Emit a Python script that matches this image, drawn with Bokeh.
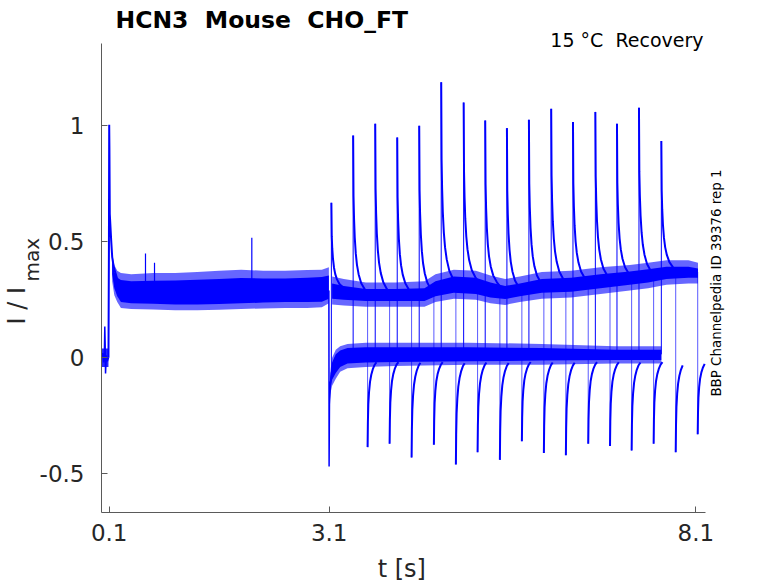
import math
from bokeh.plotting import figure
from bokeh.models import Label, FixedTicker, Range1d, LinearAxis
from bokeh.embed import file_html
from bokeh.resources import INLINE

# ---------------- values ----------------
x_ticks = [0.1, 3.1, 8.1]
x_tick_labels = ["0.1", "3.1", "8.1"]
y_ticks = [-0.5, 0, 0.5, 1]
y_tick_labels = ["-0.5", "0", "0.5", "1"]
x_axis_span = (-0.005, 8.228)
y_axis_span = (-0.667, 1.355)

# holding period before the conditioning step (t in s, I / Imax)
base_t = [0.000, 0.010, 0.025, 0.035, 0.040, 0.045, 0.050, 0.060, 0.075, 0.090]
base_I = [0.000, 0.020, -0.020, 0.030, 0.135, 0.060, -0.068, 0.010, -0.015, 0.000]
base_band_t = [0.000, 0.090]
base_band_lo = [-0.040, -0.040]
base_band_hi = [0.040, 0.040]

# activation at the conditioning step
act_t = [0.090, 0.096, 0.100, 0.103, 0.108, 0.118, 0.127, 0.141, 0.163, 0.209, 0.260]
act_I = [0.000, 0.450, 1.005, 0.900, 0.620, 0.560, 0.506, 0.434, 0.390, 0.340, 0.300]

# noisy plateau during the conditioning step (outer / inner envelopes)
pre_t      = [0.140, 0.170, 0.210, 0.260, 0.400, 0.700, 1.000, 1.300, 1.600, 1.900, 2.200, 2.500, 2.800, 3.000, 3.096]
pre_out_hi = [0.450, 0.400, 0.375, 0.365, 0.360, 0.365, 0.365, 0.370, 0.375, 0.380, 0.375, 0.375, 0.378, 0.380, 0.390]
pre_in_hi  = [0.420, 0.370, 0.345, 0.335, 0.330, 0.332, 0.333, 0.336, 0.340, 0.344, 0.342, 0.342, 0.345, 0.348, 0.355]
pre_in_lo  = [0.360, 0.300, 0.265, 0.240, 0.235, 0.233, 0.230, 0.230, 0.232, 0.235, 0.238, 0.240, 0.240, 0.242, 0.255]
pre_out_lo = [0.330, 0.270, 0.240, 0.215, 0.210, 0.208, 0.205, 0.205, 0.207, 0.210, 0.213, 0.215, 0.215, 0.218, 0.235]

# isolated spikes on the plateau
pre_spike_t = [0.595, 0.718, 2.045]
pre_spike_I = [0.450, 0.410, 0.517]
pre_spike_base = [0.300, 0.300, 0.300]

# tail current at the end of the conditioning step
tail_t = [3.096, 3.099, 3.104, 3.117, 3.141, 3.186, 3.250]
tail_I = [0.290, -0.468, -0.200, -0.110, -0.040, 0.000, 0.015]

# band of sweeps still at the interval potential
low_t      = [3.105, 3.120, 3.140, 3.190, 3.250, 3.350, 3.600, 4.000, 5.000, 6.000, 7.000, 7.630]
low_out_hi = [-0.110, -0.050, 0.000, 0.035, 0.050, 0.060, 0.065, 0.065, 0.065, 0.060, 0.050, 0.050]
low_in_hi  = [-0.130, -0.070, -0.020, 0.015, 0.032, 0.042, 0.045, 0.045, 0.045, 0.042, 0.035, 0.035]
low_in_lo  = [-0.180, -0.130, -0.095, -0.065, -0.040, -0.025, -0.020, -0.018, -0.015, -0.012, -0.010, -0.010]
low_out_lo = [-0.200, -0.150, -0.120, -0.090, -0.060, -0.045, -0.040, -0.035, -0.030, -0.030, -0.025, -0.025]

# band of sweeps in their test pulse
up_t      = [3.140, 3.300, 3.600, 4.000, 4.400, 4.550, 4.800, 5.100, 5.300, 5.500, 5.700, 6.000, 6.400, 6.800, 7.200, 7.450, 7.700, 8.000, 8.130]
up_out_hi = [0.350, 0.340, 0.325, 0.325, 0.330, 0.360, 0.380, 0.375, 0.355, 0.340, 0.350, 0.370, 0.375, 0.390, 0.400, 0.410, 0.420, 0.420, 0.410]
up_in_hi  = [0.320, 0.310, 0.297, 0.297, 0.300, 0.330, 0.350, 0.345, 0.325, 0.310, 0.320, 0.340, 0.345, 0.360, 0.372, 0.382, 0.392, 0.392, 0.385]
up_in_lo  = [0.255, 0.250, 0.245, 0.245, 0.245, 0.265, 0.280, 0.275, 0.260, 0.253, 0.265, 0.280, 0.285, 0.300, 0.315, 0.325, 0.340, 0.345, 0.345]
up_out_lo = [0.230, 0.225, 0.220, 0.220, 0.220, 0.240, 0.255, 0.250, 0.235, 0.228, 0.240, 0.255, 0.260, 0.275, 0.290, 0.300, 0.315, 0.320, 0.320]

# onset of each test pulse: time, peak, level it starts from, level it settles to
pos_t      = [3.130, 3.427, 3.728, 4.028, 4.328, 4.628, 4.934, 5.228, 5.524, 5.824, 6.128, 6.425, 6.730, 7.025, 7.325, 7.630]
pos_peak   = [0.668, 0.958, 1.009, 0.950, 1.000, 1.188, 1.100, 1.023, 0.990, 1.026, 1.073, 1.016, 1.060, 1.009, 1.078, 0.934]
pos_base   = [-0.070, 0.015, 0.015, 0.015, 0.015, 0.015, 0.015, 0.015, 0.015, 0.015, 0.015, 0.015, 0.015, 0.015, 0.015, 0.015]
pos_settle = [0.290, 0.270, 0.270, 0.270, 0.270, 0.310, 0.320, 0.300, 0.280, 0.300, 0.315, 0.320, 0.330, 0.340, 0.350, 0.370]
# decay shape after a test onset (time after onset, fraction of peak above plateau)
decay_dt   = [0.000, 0.005, 0.012, 0.022, 0.036, 0.052, 0.075, 0.110, 0.160, 0.220]
decay_frac = [1.000, 0.620, 0.480, 0.360, 0.260, 0.190, 0.130, 0.075, 0.035, 0.000]

# end of each test pulse: time, negative peak, level it starts from, visible length
neg_t    = [3.624, 3.924, 4.224, 4.528, 4.828, 5.124, 5.428, 5.728, 6.028, 6.328, 6.633, 6.930, 7.225, 7.525, 7.826, 8.126]
neg_peak = [-0.385, -0.370, -0.430, -0.375, -0.460, -0.407, -0.440, -0.360, -0.410, -0.420, -0.370, -0.380, -0.400, -0.370, -0.407, -0.330]
neg_base = [0.270, 0.270, 0.270, 0.310, 0.325, 0.315, 0.275, 0.290, 0.310, 0.315, 0.325, 0.340, 0.345, 0.360, 0.370, 0.370]
neg_len  = [0.120, 0.120, 0.120, 0.120, 0.120, 0.120, 0.120, 0.120, 0.120, 0.120, 0.120, 0.120, 0.120, 0.120, 0.095, 0.095]
# recovery shape after a test pulse (time after the end, fraction of the negative peak)
rec_dt   = [0.000, 0.004, 0.010, 0.020, 0.033, 0.050, 0.070, 0.095, 0.120]
rec_frac = [1.000, 0.720, 0.520, 0.380, 0.270, 0.190, 0.130, 0.080, 0.050]

title_text = "HCN3\u00a0 Mouse\u00a0 CHO_FT"
cond_text = "15 °C\u00a0 Recovery"
side_text = "BBP Channelpedia ID 39376 rep 1"
x_label = "t [s]"
y_label = "I / I"
y_label_sub = "max"

# ---------------- figure ----------------
BLUE = "#0000ff"
FONT = "DejaVu Sans"
AX = "#5a5a5a"

# the frame covers the whole canvas; the axes float at the data limits
p = figure(width=778, height=583, output_backend="svg", toolbar_location=None,
           x_range=Range1d(-1.38244, 9.22786), y_range=Range1d(-0.97284, 1.54009),
           x_axis_type=None, y_axis_type=None, min_border=0)
p.outline_line_color = None
p.grid.visible = False
p.background_fill_color = "white"
p.border_fill_color = "white"

xaxis = LinearAxis(fixed_location=y_axis_span[0], bounds=x_axis_span,
                   ticker=FixedTicker(ticks=x_ticks),
                   major_label_overrides=dict(zip(x_ticks, x_tick_labels)),
                   major_label_standoff=11)
yaxis = LinearAxis(fixed_location=x_axis_span[0], bounds=y_axis_span,
                   ticker=FixedTicker(ticks=y_ticks),
                   major_label_overrides=dict(zip(y_ticks, y_tick_labels)),
                   major_label_standoff=17)
for ax in (xaxis, yaxis):
    ax.axis_line_color = AX
    ax.major_tick_line_color = AX
    ax.major_tick_in = 6
    ax.major_tick_out = 0
    ax.minor_tick_line_color = None
    ax.major_label_text_font = FONT
    ax.major_label_text_font_size = "23px"
    ax.major_label_text_color = "#262626"
p.add_layout(xaxis, "below")
p.add_layout(yaxis, "left")

# noisy bands
for t, lo, hi, a in [
    (base_band_t, base_band_lo, base_band_hi, 0.85),
    (pre_t, pre_out_lo, pre_out_hi, 0.6),
    (pre_t, pre_in_lo, pre_in_hi, 1.0),
    (low_t, low_out_lo, low_out_hi, 0.6),
    (low_t, low_in_lo, low_in_hi, 1.0),
    (up_t, up_out_lo, up_out_hi, 0.6),
    (up_t, up_in_lo, up_in_hi, 1.0),
]:
    p.varea(x=t, y1=lo, y2=hi, fill_color=BLUE, fill_alpha=a)

# holding, activation, tail
p.line(base_t, base_I, line_color=BLUE, line_width=1.5)
p.line(act_t, act_I, line_color=BLUE, line_width=2)
p.line(tail_t, tail_I, line_color=BLUE, line_width=1.5)

# plateau spikes
p.multi_line(xs=[[t, t] for t in pre_spike_t],
             ys=[[b, v] for b, v in zip(pre_spike_base, pre_spike_I)],
             line_color=BLUE, line_width=1.2)

# test onsets: vertical jumps and decays
up_xs, up_ys, dec_xs, dec_ys = [], [], [], []
for t0, pk, b0, s in zip(pos_t, pos_peak, pos_base, pos_settle):
    up_xs.append([t0, t0])
    up_ys.append([b0, pk])
    dec_xs.append([t0 + d for d in decay_dt])
    dec_ys.append([s + f * (pk - s) for f in decay_frac])
p.multi_line(xs=up_xs, ys=up_ys, line_color=BLUE, line_width=1)
p.multi_line(xs=dec_xs, ys=dec_ys, line_color=BLUE, line_width=2)

# test ends: vertical drops and recoveries
dn_xs, dn_ys, rc_xs, rc_ys = [], [], [], []
for t0, pk, b0, ln in zip(neg_t, neg_peak, neg_base, neg_len):
    dn_xs.append([t0, t0])
    dn_ys.append([b0, pk])
    pts = [(d, f) for d, f in zip(rec_dt, rec_frac) if d <= ln + 1e-9]
    rc_xs.append([t0 + d for d, f in pts])
    rc_ys.append([f * pk for d, f in pts])
p.multi_line(xs=dn_xs, ys=dn_ys, line_color=BLUE, line_width=1, line_alpha=0.65)
p.multi_line(xs=rc_xs, ys=rc_ys, line_color=BLUE, line_width=2)

# ---------------- texts (screen px from the canvas bottom-left) ----------------
def lab(text, x, y, size, **kw):
    p.add_layout(Label(x=x, y=y, x_units="screen", y_units="screen", text=text,
                       text_font=FONT, text_font_size=size, **kw))

lab(title_text, 115, 564.0, "23.5px", text_font_style="bold", text_color="black",
    text_align="left", text_baseline="alphabetic")
lab(cond_text, 703, 543.5, "19px", text_color="black", text_align="right",
    text_baseline="alphabetic")
lab(side_text, 715.5, 300.5, "13.4px", text_color="black", text_align="center",
    text_baseline="alphabetic", angle=math.pi / 2)
lab(x_label, 401.3, 15.0, "24px", text_color="#262626", text_align="center",
    text_baseline="alphabetic")
lab(y_label, 16.5, 259, "24px", text_color="#262626", text_align="left",
    text_baseline="alphabetic", angle=math.pi / 2)
lab(y_label_sub, 31.5, 302, "20px", text_color="#262626", text_align="left",
    text_baseline="alphabetic", angle=math.pi / 2)

open("out.html", "w").write(file_html(p, INLINE))
